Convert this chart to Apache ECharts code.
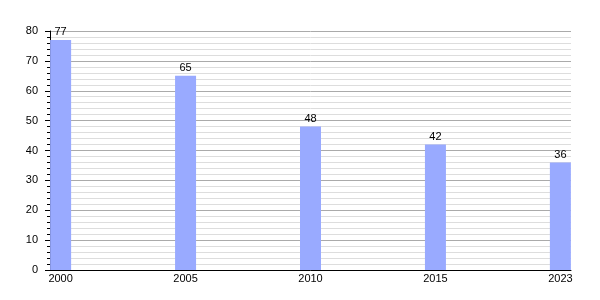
<!DOCTYPE html>
<html>
<head>
<meta charset="utf-8">
<script src="https://cdn.jsdelivr.net/npm/echarts@6/dist/echarts.min.js"></script>
<style>html,body{margin:0;padding:0;background:#fff}#c{width:600px;height:300px}</style>
</head>
<body>
<div id="c"></div>
<script>
var categories = ['2000', '2005', '2010', '2015', '2023'];
var values = [77, 65, 48, 42, 36];
var yTicks = [0, 10, 20, 30, 40, 50, 60, 70, 80];

var chart = echarts.init(document.getElementById('c'), null, {renderer: 'canvas'});
var font = 'Liberation Sans, Arial, sans-serif';
chart.setOption({
  animation: false,
  grid: {left: 50, right: 29, top: 31, bottom: 30},
  xAxis: {
    type: 'value',
    min: -0.085, max: 4.085,
    axisLine: {show: true, onZero: false, lineStyle: {color: '#000', width: 1}},
    axisTick: {show: false},
    splitLine: {show: false},
    axisLabel: {
      customValues: categories.map(function (c, i) { return i; }),
      formatter: function (v) { return categories[Math.round(v)]; },
      color: '#000', fontSize: 11, fontFamily: font, margin: 3
    }
  },
  yAxis: {
    type: 'value', min: 0, max: 80, interval: 10,
    axisLine: {show: true, onZero: false, lineStyle: {color: '#000', width: 1}},
    axisTick: {show: true, length: 5, lineStyle: {color: '#000'}},
    minorTick: {show: true, splitNumber: 5, length: 3, lineStyle: {color: '#000'}},
    splitLine: {show: true, lineStyle: {color: '#aaaaaa', width: 1}},
    minorSplitLine: {show: true, lineStyle: {color: '#dddddd', width: 1}},
    axisLabel: {color: '#000', fontSize: 11, fontFamily: font, margin: 12,
      customValues: yTicks}
  },
  series: [{
    type: 'bar',
    barWidth: 21,
    data: values.map(function (v, i) { return [i, v]; }),
    itemStyle: {color: '#99aaff'},
    label: {show: true, position: 'top', color: '#000', fontSize: 11, fontFamily: font, distance: 2,
      formatter: function (p) { return p.value[1]; }}
  }]
});
</script>
</body>
</html>
